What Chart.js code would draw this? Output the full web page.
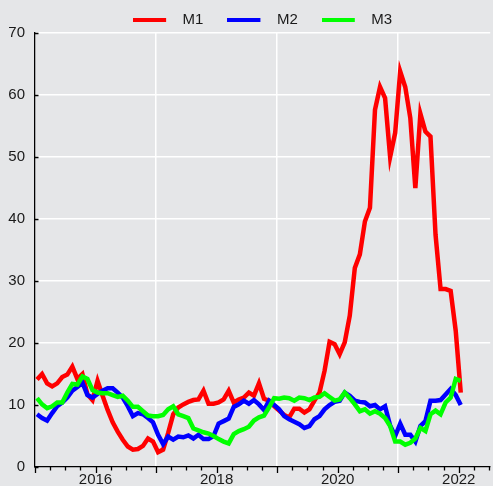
<!DOCTYPE html>
<html>
<head>
<meta charset="utf-8">
<script src="https://cdn.jsdelivr.net/npm/chart.js@4.4.1/dist/chart.umd.min.js"></script>
<style>
  html, body { margin: 0; padding: 0; background: #e5e6e8; }
  #wrap { width: 493px; height: 486px; }
</style>
</head>
<body>
<div id="wrap"><canvas id="c" width="493" height="486"></canvas></div>
<script>
// ---- data ----
const startYear = 2015;          // first month: Jan 2015, monthly series
const pointOffset = 0.4;         // position of each monthly point inside its month
const seriesNames = ['M1', 'M2', 'M3'];
const seriesColors = ['#ff0000', '#0000ff', '#00ff00'];

const m1 = [14.1,15.0,13.5,13.0,13.5,14.5,14.9,16.2,14.2,15.0,
            11.7,10.8,13.9,11.5,9.2,7.2,5.7,4.4,3.3,2.8,
            2.9,3.4,4.6,4.1,2.4,2.8,5.5,8.5,9.6,10.1,
            10.5,10.8,10.9,12.3,10.2,10.2,10.4,10.9,12.3,10.4,
            10.9,11.2,12.0,11.5,13.5,11.0,10.7,9.8,9.1,8.4,
            8.0,9.4,9.4,8.8,9.3,10.7,12.0,15.5,20.2,19.8,
            18.2,20.1,24.4,32.1,34.3,39.6,41.8,57.6,61.3,59.5,
            50.0,53.9,63.8,61.3,56.3,45.0,57.0,54.1,53.3,37.5,
            28.7,28.7,28.4,22.0,12.0];
const m2 = [8.5,7.9,7.5,8.7,9.8,10.4,11.2,12.3,12.9,13.6,
            11.6,11.2,11.8,12.3,12.7,12.7,12.0,11.2,9.8,8.2,
            8.7,8.5,7.9,7.2,5.2,3.7,4.9,4.4,4.9,4.8,
            5.1,4.6,5.2,4.5,4.5,5.0,7.0,7.4,7.8,9.7,
            10.1,10.7,10.2,10.8,10.1,9.2,10.7,10.0,9.3,8.2,
            7.7,7.3,6.9,6.3,6.6,7.7,8.2,9.3,10.0,10.5,
            10.7,12.0,11.5,10.7,10.5,10.4,9.8,10.0,9.3,9.8,
            6.7,5.0,7.0,5.2,5.2,4.1,6.6,7.4,10.7,10.7,
            10.8,11.7,12.6,11.6,10.0];
const m3 = [11.1,10.1,9.5,9.8,10.4,10.4,12.0,13.4,13.3,14.6,
            14.2,12.4,12.0,11.9,11.9,11.6,11.3,11.5,10.7,9.7,
            9.7,9.0,8.3,8.2,8.2,8.4,9.3,9.8,8.5,8.2,
            7.9,6.2,5.9,5.6,5.4,5.0,4.5,4.1,3.8,5.3,
            5.8,6.1,6.5,7.5,8.0,8.3,9.6,11.1,11.0,11.2,
            11.1,10.7,11.2,11.1,10.8,11.2,11.3,11.9,11.3,10.7,
            10.9,12.0,11.1,10.1,9.0,9.3,8.6,9.0,8.6,7.9,
            6.6,4.1,4.1,3.6,3.9,4.6,6.3,5.8,8.5,9.1,
            8.5,10.4,11.2,14.2,13.9];

const xTickLabels = ['2016', '2018', '2020', '2022'];
const yTickValues = [0, 10, 20, 30, 40, 50, 60, 70];
const xMin = 2015, xMax = 2022.52;
const xTickStep = 0.25;

// ---- styling ----
const FONT = "'Liberation Sans', Arial, Helvetica, sans-serif";
const BG = '#e5e6e8';
const TEXT = '#1a1a1a';

function toPoints(arr) {
  return arr.map((v, i) => ({ x: startYear + (i + pointOffset) / 12, y: v }));
}
function legendLine(color) {
  const c = document.createElement('canvas');
  c.width = 42; c.height = 4;
  const g = c.getContext('2d');
  g.fillStyle = color;
  g.fillRect(0, 0, 33, 4);
  return c;
}
const isInt = v => Math.abs(v - Math.round(v)) < 1e-9;

const quarterTicks = [];
for (let v = xMin; v <= xMax + 1e-9; v += xTickStep) quarterTicks.push(Math.round(v * 100) / 100);

const bgPlugin = {
  id: 'bg',
  beforeDraw(chart) {
    const ctx = chart.ctx;
    ctx.save();
    ctx.fillStyle = BG;
    ctx.fillRect(0, 0, chart.width, chart.height);
    ctx.restore();
  }
};

const legendHeightPlugin = {
  id: 'legendHeight',
  beforeLayout(chart) {
    const lg = chart.legend;
    if (lg && !lg._patched) {
      const orig = lg.fit;
      lg.fit = function () { orig.call(this); this.height = 44.5; };
      lg._patched = true;
    }
  }
};

const tickMarksPlugin = {
  id: 'tickMarks',
  beforeDatasetsDraw(chart) {
    const ctx = chart.ctx;
    const xs = chart.scales.x, ys = chart.scales.y;
    const area = chart.chartArea;
    ctx.save();
    ctx.strokeStyle = '#000';
    ctx.lineWidth = 1.3;
    ctx.beginPath();
    xs.ticks.forEach(t => {
      const px = Math.round(xs.getPixelForValue(t.value)) + 0.5;
      const len = isInt(t.value) ? 6 : 3.5;
      ctx.moveTo(px, area.bottom);
      ctx.lineTo(px, area.bottom + len);
    });
    ys.ticks.forEach(t => {
      const py = Math.round(ys.getPixelForValue(t.value)) + 0.5;
      ctx.moveTo(area.left, py);
      ctx.lineTo(area.left + 3.5, py);
    });
    ctx.stroke();
    ctx.restore();
  }
};

const datasets = [m1, m2, m3].map((arr, i) => ({
  label: seriesNames[i],
  data: toPoints(arr),
  borderColor: seriesColors[i],
  backgroundColor: seriesColors[i],
  borderWidth: 4.5,
  pointRadius: 0,
  pointHoverRadius: 0,
  pointStyle: legendLine(seriesColors[i]),
  tension: 0,
  fill: false,
  order: 3 - i
}));

new Chart(document.getElementById('c'), {
  type: 'line',
  data: { datasets },
  plugins: [bgPlugin, legendHeightPlugin, tickMarksPlugin],
  options: {
    responsive: false,
    animation: false,
    devicePixelRatio: 1,
    layout: { padding: { top: -11.5, left: 0, right: 0, bottom: 0 } },
    plugins: {
      tooltip: { enabled: false },
      legend: {
        position: 'top',
        fullSize: false,
        labels: {
          usePointStyle: true,
          pointStyleWidth: 42,
          padding: 24,
          color: TEXT,
          font: { family: FONT, size: 15 },
          sort: (a, b) => a.datasetIndex - b.datasetIndex
        }
      }
    },
    scales: {
      x: {
        type: 'linear',
        min: xMin,
        max: xMax,
        afterBuildTicks: s => { s.ticks = quarterTicks.map(v => ({ value: v })); },
        afterFit: s => { s.height = 18; },
        grid: {
          drawTicks: false,
          lineWidth: 1.5,
          color: ctx => {
            const v = ctx.tick ? ctx.tick.value : null;
            return (v !== null && isInt(v) && Math.round(v) % 2 === 1) ? '#ffffff' : 'rgba(0,0,0,0)';
          }
        },
        border: { display: true, color: '#000', width: 1.3 },
        ticks: {
          autoSkip: false,
          maxRotation: 0,
          padding: 4,
          color: TEXT,
          font: { family: FONT, size: 15 },
          callback: v => {
            const lbl = String(Math.round(v));
            return (isInt(v) && xTickLabels.includes(lbl)) ? lbl : '';
          }
        }
      },
      y: {
        type: 'linear',
        min: yTickValues[0],
        max: yTickValues[yTickValues.length - 1],
        afterBuildTicks: s => { s.ticks = yTickValues.map(v => ({ value: v })); },
        afterFit: s => { s.width = 35; },
        grid: {
          drawTicks: false,
          lineWidth: 1.5,
          color: ctx => (ctx.tick && ctx.tick.value === 0) ? 'rgba(0,0,0,0)' : '#ffffff'
        },
        border: { display: true, color: '#000', width: 1.3 },
        ticks: {
          padding: 10,
          color: TEXT,
          font: { family: FONT, size: 15 },
          callback: v => String(v)
        }
      }
    }
  }
});
</script>
</body>
</html>
